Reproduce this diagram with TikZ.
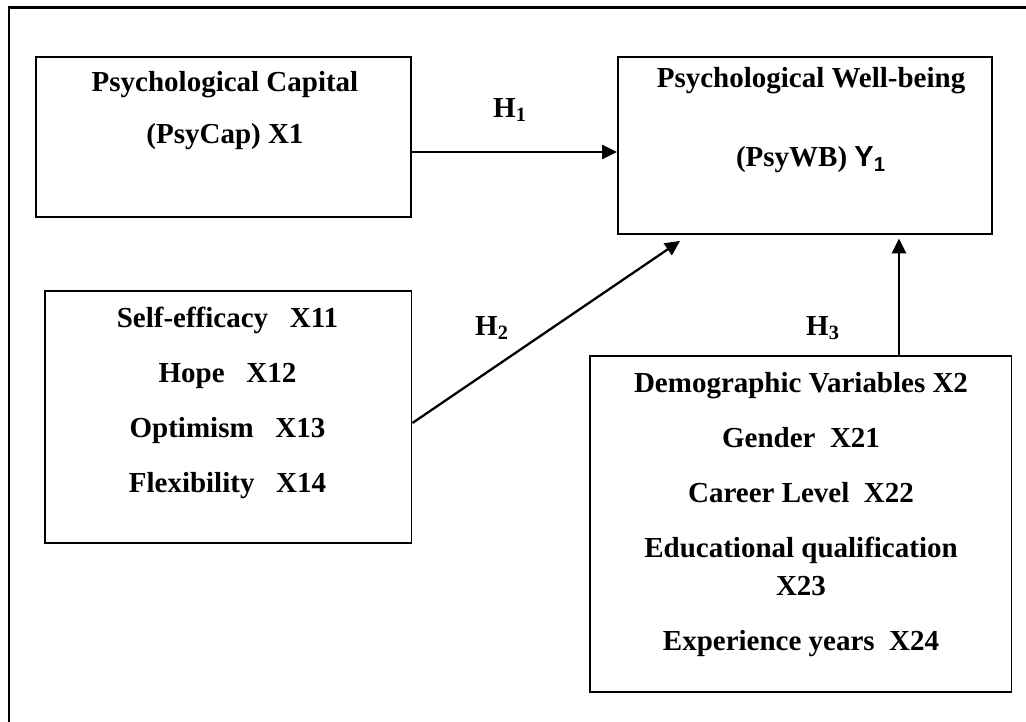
\documentclass[tikz,border=0pt]{standalone}
\usepackage{fontspec}
\setmainfont{Liberation Serif}
\setsansfont{Liberation Sans}
\usetikzlibrary{arrows.meta,calc,positioning}
\tikzset{%
	varbox/.style  = {draw, rectangle, line width=1.1pt, inner sep=0pt},
	boxtext/.style = {align=center, font=\fontsize{16.5}{21.6}\selectfont\bfseries},
	hypo/.style    = {font=\fontsize{16.5}{20}\selectfont\bfseries},
	arrow/.style   = {line width=1.3pt, -{Triangle[length=8.5pt,width=8pt]}},
}

\begin{document}
\begin{tikzpicture}[x=0.02cm,y=-0.02cm]
	\useasboundingbox (0,0) rectangle (1026,722);
	\draw[line width=1.7pt] (9,722) -- (9,8) -- (1030,8);  % outer frame
	
	% boxes
	\node[varbox, minimum width=7.5cm,  minimum height=3.2cm]  (psycap) at (223.5,137) {};
	\node[varbox, minimum width=7.48cm, minimum height=3.54cm] (psywb)  at (805,145.5) {};
	\node[varbox, minimum width=7.34cm, minimum height=5.04cm] (dims)   at (228,417) {};
	\node[varbox, minimum width=8.44cm, minimum height=6.72cm] (demo)   at (800.5,524) {};
	
	% box texts
	\node[boxtext] (psycaptext) at (225,111) {Psychological Capital\\[8pt](PsyCap) X1};
	\node[boxtext] (psywbtext)  at (811,120.5) {Psychological Well-being\\[23.4pt](PsyWB) {\sffamily Y\textsubscript{1}}};
	\node[boxtext] (dimstext)   at (227.5,402.5) {Self-efficacy\ \ \ X11\\[9.7pt]Hope\ \ \ X12\\[9.7pt]Optimism\ \ \ X13\\[9.7pt]Flexibility\ \ \ X14};
	\node[boxtext] (demotext)   at (801,515) {Demographic Variables X2\\[9.7pt]Gender\ \ X21\\[9.7pt]Career Level\ \ X22\\[9.7pt]Educational qualification\\X23\\[9.7pt]Experience years\ \ X24};
	
	% hypotheses
	\node[hypo] (h1) at (510,110) {H\textsubscript{1}};
	\node[hypo] (h2) at (492,328) {H\textsubscript{2}};
	\node[hypo] (h3) at (823,328) {H\textsubscript{3}};
	
	\draw[arrow] ([yshift=-0.3cm]psycap.east) -- ([yshift=-0.3cm]psycap.east -| psywb.west);
	\draw[arrow] ([yshift=-0.12cm]dims.east) -- ([xshift=1.26cm,yshift=-0.12cm]psywb.south west);
	\draw[arrow, shorten >=2pt] ([xshift=1.97cm]demo.north) -- ([xshift=1.97cm]demo.north |- psywb.south);
\end{tikzpicture}
\end{document}
